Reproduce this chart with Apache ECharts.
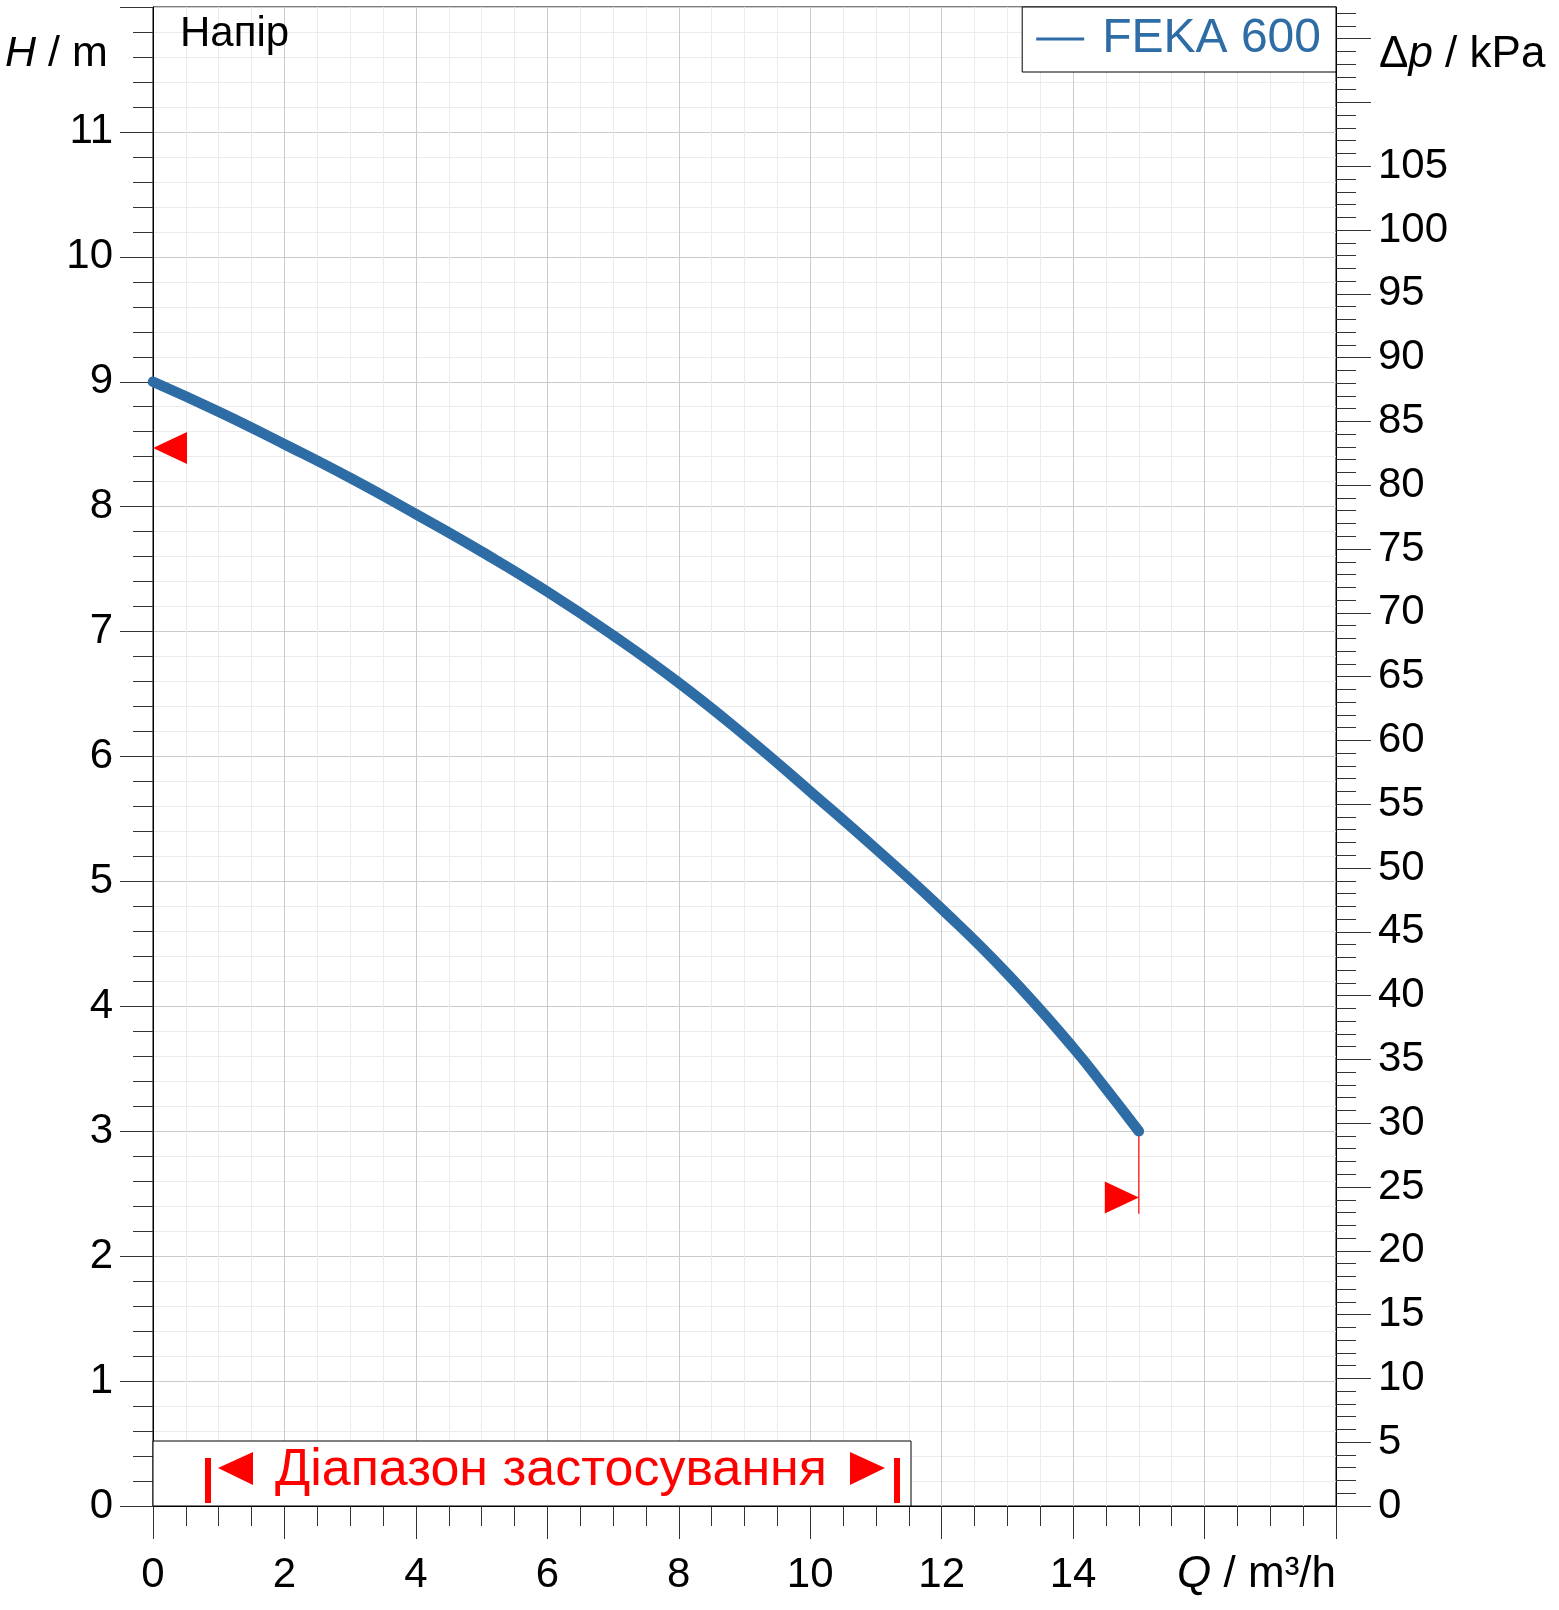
<!DOCTYPE html>
<html>
<head>
<meta charset="utf-8">
<script src="https://cdn.jsdelivr.net/npm/echarts@6/dist/echarts.min.js"></script>
<style>
html,body{margin:0;padding:0;background:#fff;}
#chart{width:1559px;height:1610px;}
</style>
</head>
<body>
<div id="chart"></div>
<script>
// ---- data ----
const flowQ = [0, 1, 2, 3, 4, 5, 6, 7, 8, 9, 10, 11, 12, 13, 14, 14.5, 15];
const headH = [9.0, 8.76, 8.50, 8.23, 7.94, 7.64, 7.32, 6.97, 6.59, 6.17, 5.72, 5.26, 4.78, 4.26, 3.67, 3.34, 3.0];
const seriesName = 'FEKA 600';
const minMarker = [0, 8.47];   // left red triangle
const maxMarker = [15, 2.47];  // right red triangle
const endLine = [[15, 3.0], [15, 2.34]];
const xRange = [0, 18];
const hRange = [0, 12];
const kPaPerM = 9.79;
const xLabelValues = [0, 2, 4, 6, 8, 10, 12, 14];
const hLabelValues = [0, 1, 2, 3, 4, 5, 6, 7, 8, 9, 10, 11];
const pMajorTicks = [0,5,10,15,20,25,30,35,40,45,50,55,60,65,70,75,80,85,90,95,100,105,110,115];
const pLabelValues = [0,5,10,15,20,25,30,35,40,45,50,55,60,65,70,75,80,85,90,95,100,105];
const pMinorTicks = [];
for (let i = 0; i <= 117; i++) pMinorTicks.push(i);
const rangeText = 'Діапазон застосування';

// ---- styles ----
const FONT = 'Liberation Sans, Arial, sans-serif';
const BLUE = '#2e6ca6';
const RED = '#ff0000';
const TICK = '#333';
const MAJ = '#cbcbcb';
const MIN = '#ebebeb';

const chart = echarts.init(document.getElementById('chart'), null, {renderer: 'canvas'});
const lineData = flowQ.map((q, i) => [q, headH[i]]);
const pMax = hRange[1] * kPaPerM;
const GRID = { left: 153, right: 223, top: 7, bottom: 104 };

const option = {
  animation: false,
  backgroundColor: '#fff',
  grid: [
    Object.assign({ show: true, borderColor: '#000', borderWidth: 1, containLabel: false }, GRID),
    Object.assign({ show: false, containLabel: false }, GRID)
  ],
  legend: {
    data: [seriesName], right: 223, top: 7, selectedMode: false,
    backgroundColor: '#fff', borderColor: '#000', borderWidth: 1,
    padding: [8, 15, 9, 14], icon: 'rect', itemWidth: 48, itemHeight: 3,
    textStyle: { color: BLUE, fontSize: 48, fontFamily: FONT, padding: [0, 0, 0, 13] }
  },
  xAxis: [
    {
      type: 'value', gridIndex: 0, min: xRange[0], max: xRange[1], interval: 2,
      axisLine: { show: true, onZero: false, lineStyle: { color: '#000', width: 1 } },
      axisTick: { show: true, length: 33, lineStyle: { color: TICK } },
      minorTick: { show: true, splitNumber: 4, length: 20, lineStyle: { color: TICK } },
      splitLine: { show: true, lineStyle: { color: MAJ, width: 1 } },
      minorSplitLine: { show: true, lineStyle: { color: MIN, width: 1 } },
      axisLabel: {
        fontSize: 42, fontFamily: FONT, color: '#000', margin: 48,
        formatter: v => xLabelValues.indexOf(v) >= 0 ? String(v) : ''
      }
    },
    { type: 'value', gridIndex: 1, min: xRange[0], max: xRange[1], show: false, axisLine: { onZero: false } }
  ],
  yAxis: [
    {
      type: 'value', gridIndex: 0, min: hRange[0], max: hRange[1], interval: 1, position: 'left',
      axisLine: { show: true, onZero: false, lineStyle: { color: '#000', width: 1 } },
      axisTick: { show: true, length: 33, lineStyle: { color: TICK } },
      minorTick: { show: true, splitNumber: 5, length: 20, lineStyle: { color: TICK } },
      splitLine: { show: true, lineStyle: { color: MAJ, width: 1 } },
      minorSplitLine: { show: true, lineStyle: { color: MIN, width: 1 } },
      axisLabel: {
        fontSize: 42, fontFamily: FONT, color: '#000', margin: 40,
        formatter: v => hLabelValues.indexOf(v) >= 0 ? String(v) : ''
      }
    },
    {
      type: 'value', gridIndex: 0, min: 0, max: pMax, position: 'right',
      axisLine: { show: true, onZero: false, lineStyle: { color: '#000', width: 1 } },
      axisTick: { show: true, length: 35, customValues: pMajorTicks, lineStyle: { color: TICK } },
      splitLine: { show: false },
      axisLabel: { show: true, customValues: pLabelValues, fontSize: 42, fontFamily: FONT, color: '#000', margin: 42 }
    },
    {
      type: 'value', gridIndex: 1, min: 0, max: pMax, position: 'right',
      axisLine: { show: false, onZero: false },
      axisTick: { show: true, length: 20, customValues: pMinorTicks, lineStyle: { color: TICK } },
      splitLine: { show: false },
      axisLabel: { show: false }
    }
  ],
  series: [
    {
      name: 'end', type: 'line', data: endLine, z: 2, silent: true, showSymbol: false,
      lineStyle: { color: RED, width: 1.2 }
    },
    {
      name: seriesName, type: 'line', data: lineData, smooth: 0.5, z: 3,
      showSymbol: false, silent: true, color: BLUE,
      lineStyle: { color: BLUE, width: 10.5, cap: 'round', join: 'round' }
    },
    {
      name: 'markers', type: 'scatter', z: 4, silent: true, symbol: 'triangle', symbolSize: [32, 34],
      itemStyle: { color: RED, opacity: 1 },
      data: [
        { value: minMarker, symbolRotate: 90, symbolOffset: [17, 0] },
        { value: maxMarker, symbolRotate: -90, symbolOffset: [-17, 0] }
      ]
    }
  ],
  graphic: [
    { type: 'text', z: 20, style: { text: 'Напір', x: 180, y: 34, font: '42px ' + FONT, fill: '#000', verticalAlign: 'middle', textVerticalAlign: 'middle' } },
    { type: 'text', z: 20, style: { text: '{i|H} / m', x: 5, y: 54, font: '43px ' + FONT, fill: '#000', verticalAlign: 'middle', textVerticalAlign: 'middle',
        rich: { i: { fontStyle: 'italic', fontSize: 43, fontFamily: FONT, fill: '#000' } } } },
    { type: 'text', z: 20, style: { text: 'Δ{i|p} / kPa', x: 1379, y: 55, font: '44px ' + FONT, fill: '#000', verticalAlign: 'middle', textVerticalAlign: 'middle',
        rich: { i: { fontStyle: 'italic', fontSize: 44, fontFamily: FONT, fill: '#000' } } } },
    { type: 'text', z: 20, style: { text: '{i|Q} / m³/h', x: 1336, y: 1575, font: '44px ' + FONT, fill: '#000', align: 'right', textAlign: 'right', verticalAlign: 'middle', textVerticalAlign: 'middle',
        rich: { i: { fontStyle: 'italic', fontSize: 44, fontFamily: FONT, fill: '#000' } } } },
    { type: 'rect', z: 10, shape: { x: 153, y: 1441, width: 758, height: 65 }, style: { fill: '#fff', stroke: '#000', lineWidth: 1 } },
    { type: 'rect', z: 11, shape: { x: 205, y: 1458, width: 6, height: 45 }, style: { fill: RED } },
    { type: 'polygon', z: 11, shape: { points: [[218, 1468], [253, 1452], [253, 1485]] }, style: { fill: RED } },
    { type: 'text', z: 11, style: { text: rangeText, x: 275, y: 1471, font: '52px ' + FONT, fill: RED, verticalAlign: 'middle', textVerticalAlign: 'middle' } },
    { type: 'polygon', z: 11, shape: { points: [[850, 1452], [885, 1468], [850, 1485]] }, style: { fill: RED } },
    { type: 'rect', z: 11, shape: { x: 894, y: 1458, width: 6, height: 45 }, style: { fill: RED } }
  ]
};
chart.setOption(option);
</script>
</body>
</html>
